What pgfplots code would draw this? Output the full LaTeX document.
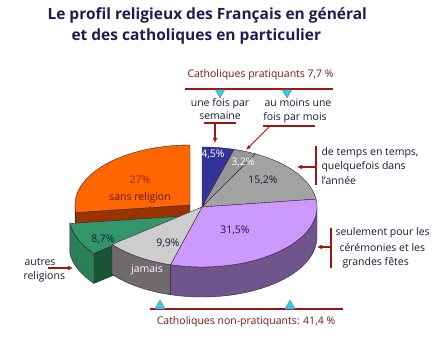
\documentclass[border=0pt]{standalone}
\usepackage{pgfplots}
\pgfplotsset{compat=1.18}
\usepackage{fontspec}
\setmainfont{Open Sans}
\usetikzlibrary{arrows.meta}

\definecolor{edge}{RGB}{50,30,60}
\definecolor{cblue}{RGB}{51,51,153}
\definecolor{cgrayA}{RGB}{150,150,150}
\definecolor{cgrayB}{RGB}{163,163,163}
\definecolor{clav}{RGB}{204,153,255}
\definecolor{clavwall}{RGB}{112,85,140}
\definecolor{cjam}{RGB}{205,205,205}
\definecolor{cjamwall}{RGB}{110,106,110}
\definecolor{cgreen}{RGB}{51,150,105}
\definecolor{cgreenwall}{RGB}{42,128,86}
\definecolor{cgreencut}{RGB}{25,85,55}
\definecolor{corange}{RGB}{255,102,0}
\definecolor{corangewall}{RGB}{153,51,0}
\definecolor{credline}{RGB}{160,20,20}
\definecolor{ccyan}{RGB}{51,204,230}
\definecolor{ctitle}{RGB}{30,30,80}
\definecolor{ctext}{RGB}{25,25,60}
\definecolor{ccatho}{RGB}{115,25,20}
\definecolor{cbrown}{RGB}{140,35,25}

\def\rx{115}\def\ry{60}\def\dep{30}
% percentages
\def\pBlue{4.5}\def\pGrayA{3.2}\def\pGrayB{15.2}\def\pLav{31.5}
\def\pJam{9.9}\def\pGreen{8.7}\def\pOrange{27}
\pgfmathsetmacro\aA{90}
\pgfmathsetmacro\aB{\aA-3.6*\pBlue}
\pgfmathsetmacro\aC{\aB-3.6*\pGrayA}
\pgfmathsetmacro\aD{\aC-3.6*\pGrayB}
\pgfmathsetmacro\aE{\aD-3.6*\pLav}
\pgfmathsetmacro\aF{\aE-3.6*\pJam}
\pgfmathsetmacro\aG{\aF-3.6*\pGreen}
\pgfmathsetmacro\aH{\aG-3.6*\pOrange}

% top face of a slice: cx, cy, low angle, high angle, colour
\newcommand\slice[5]{%
\addplot[fill=#5,draw=edge,line width=0.4pt,domain=#3:#4,samples=40,variable=\t]
 ({#1+\rx*cos(\t)},{#2-\ry*sin(\t)}) -- (axis cs:#1,#2) -- cycle;}
% outer wall: cx, cy, a, b, colour
\newcommand\wall[5]{%
\addplot[fill=#5,draw=edge,line width=0.4pt,domain=0:2,samples=81,variable=\t]
 ({#1+\rx*cos((1-(\t>1.0125))*(#3+(#4-#3)*min(\t,1)) + (\t>1.0125)*(#4-(#4-#3)*(\t-1.025)/0.975))},
  {#2-\ry*sin((1-(\t>1.0125))*(#3+(#4-#3)*min(\t,1)) + (\t>1.0125)*(#4-(#4-#3)*(\t-1.025)/0.975)) + (\t>1.0125)*\dep}) -- cycle;}
% radial cut face: cx, cy, angle, colour
\newcommand\cutface[4]{%
\addplot[fill=#4,draw=edge,line width=0.4pt,samples at={0,1,2,3},variable=\t]
 ({#1+\rx*cos(#3)*and(\t>0.5,\t<2.5)},{#2-\ry*sin(#3)*and(\t>0.5,\t<2.5)+(\t>1.5)*\dep}) -- cycle;}

\newcommand\lbl{\fontsize{10.5}{12}\selectfont}

\begin{document}
\begin{tikzpicture}
\begin{axis}[width=437pt,height=338pt,scale only axis,
  xmin=0,xmax=437,ymin=0,ymax=338,y dir=reverse,hide axis,clip=false]
\addplot[fill=white,draw=none] coordinates {(0,0)(437,0)(437,338)(0,338)} -- cycle;

% orange (exploded)
\cutface{190}{205}{\aG}{corangewall}
\wall{190}{205}{-180}{\aG}{corangewall}
\slice{190}{205}{\aH}{\aG}{corange}
% green (exploded)
\cutface{184}{216}{\aF}{cgreencut}
\wall{184}{216}{\aG}{\aF}{cgreenwall}
\slice{184}{216}{\aG}{\aF}{cgreen}
% main body
\wall{202}{207}{\aE}{0}{clavwall}
\wall{202}{207}{\aF}{\aE}{cjamwall}
\slice{202}{207}{\aB}{\aA}{cblue}
\slice{202}{207}{\aC}{\aB}{cgrayA}
\slice{202}{207}{\aD}{\aC}{cgrayB}
\slice{202}{207}{\aE}{\aD}{clav}
\slice{202}{207}{\aF}{\aE}{cjam}

% slice labels
\node[text=white,font=\lbl] at (axis cs:213,154) {4,5\%};
\node[text=white,font=\lbl] at (axis cs:243,162) {3,2\%};
\node[text=ctext,font=\lbl] at (axis cs:263,180) {15,2\%};
\node[text=ctext,font=\lbl] at (axis cs:235,230) {31,5\%};
\node[text=ctext,font=\lbl] at (axis cs:168,243) {9,9\%};
\node[text=white,font=\lbl] at (axis cs:147,270) {jamais};
\node[text=ctext,font=\lbl] at (axis cs:103,239) {8,7\%};
\node[text=cbrown,font=\lbl] at (axis cs:140,180) {27\%};
\node[text=cbrown!70!black,font=\lbl] at (axis cs:140,198) {sans religion};

% title
\node[text=ctitle,font=\fontsize{15.5}{18}\selectfont\bfseries,anchor=west] at (axis cs:44,15) {Le profil religieux des Français en général};
\node[text=ctitle,font=\fontsize{15.5}{18}\selectfont\bfseries,anchor=west] at (axis cs:68,36) {et des catholiques en particulier};

% top annotation
\node[text=ccatho,font=\lbl,anchor=west] at (axis cs:184,75) {Catholiques pratiquants 7,7 \%};
\draw[credline,line width=2pt] (axis cs:185,89) -- (axis cs:333,89);
\addplot[only marks,mark=triangle*,mark size=5.5pt,mark options={fill=ccyan,draw=black!60,rotate=180,line width=0.3pt}] coordinates {(220,92.5)(287,92.5)};
\node[text=ctext,font=\lbl] at (axis cs:220,104) {une fois par};
\node[text=ctext,font=\lbl] at (axis cs:220,116) {semaine};
\draw[credline,line width=1.5pt] (axis cs:204,123) -- (axis cs:236,123);
\draw[credline,line width=1.5pt,-{Latex[length=5pt,width=5pt]}] (axis cs:215,123) -- (axis cs:215,143);
\node[text=ctext,font=\lbl] at (axis cs:298,103) {au moins une};
\node[text=ctext,font=\lbl] at (axis cs:295,118) {fois par mois};
\draw[credline,line width=1.5pt] (axis cs:263,126) -- (axis cs:315,126);
\draw[credline,line width=1pt,-{Latex[length=5pt,width=4pt]}] (axis cs:270,126) -- (axis cs:246,150);

% right annotations
\draw[credline,line width=2pt] (axis cs:316,146) -- (axis cs:316,185);
\draw[credline,line width=1.5pt,-{Latex[length=5pt,width=5pt]}] (axis cs:316,167) -- (axis cs:297,167);
\node[text=ctext,font=\lbl,anchor=west] at (axis cs:318,153) {de temps en temps,};
\node[text=ctext,font=\lbl,anchor=west] at (axis cs:318,167) {quelquefois dans};
\node[text=ctext,font=\lbl,anchor=west] at (axis cs:318,181) {l'année};

\draw[credline,line width=2pt] (axis cs:331,228) -- (axis cs:331,268);
\draw[credline,line width=1.5pt,-{Latex[length=5pt,width=5pt]}] (axis cs:331,247) -- (axis cs:317,247);
\node[text=ctext,font=\lbl,anchor=west] at (axis cs:332,233) {seulement pour les};
\node[text=ctext,font=\lbl,anchor=west] at (axis cs:336,248) {cérémonies et les};
\node[text=ctext,font=\lbl,anchor=west] at (axis cs:339,263) {grandes fêtes};

% left annotation
\node[text=ctext,font=\lbl,anchor=west] at (axis cs:21,262) {autres};
\node[text=ctext,font=\lbl,anchor=west] at (axis cs:20,277) {religions};
\draw[credline,line width=1.5pt,-{Latex[length=5pt,width=5pt]}] (axis cs:48,268) -- (axis cs:73,268);

% bottom annotation
\draw[credline,line width=1.5pt] (axis cs:150,309) -- (axis cs:343,309);
\addplot[only marks,mark=triangle*,mark size=6pt,mark options={fill=ccyan,draw=black!60,line width=0.3pt}] coordinates {(160,306)(290,306)};
\node[text=ccatho,font=\lbl] at (axis cs:246,322) {Catholiques non-pratiquants: 41,4 \%};
\end{axis}
\end{tikzpicture}
\end{document}
